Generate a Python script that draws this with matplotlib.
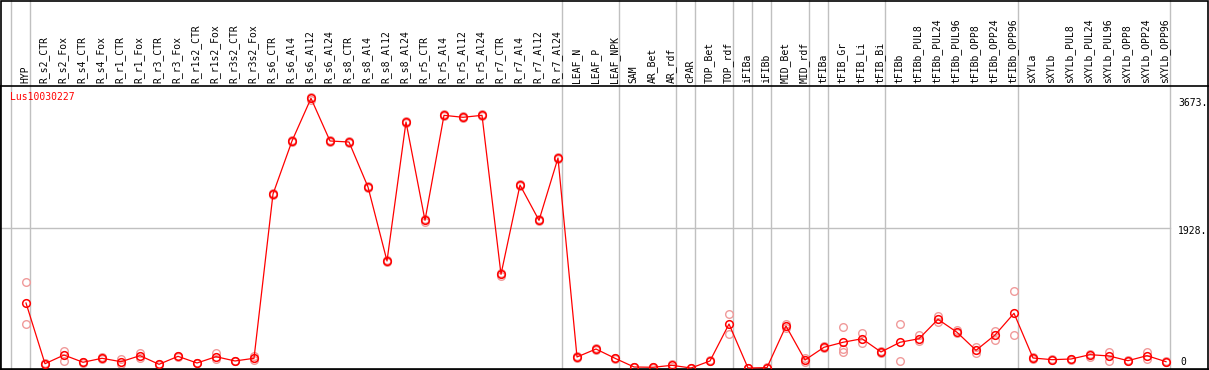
import matplotlib
matplotlib.use('Agg')
import matplotlib.pyplot as plt
from matplotlib.patches import Rectangle
import numpy as np

names = ['HYP', 'R_s2_CTR', 'R_s2_Fox', 'R_s4_CTR', 'R_s4_Fox', 'R_r1_CTR', 'R_r1_Fox',
         'R_r3_CTR', 'R_r3_Fox', 'R_r1s2_CTR', 'R_r1s2_Fox', 'R_r3s2_CTR', 'R_r3s2_Fox',
         'R_s6_CTR', 'R_s6_Al4', 'R_s6_Al12', 'R_s6_Al24', 'R_s8_CTR', 'R_s8_Al4',
         'R_s8_Al12', 'R_s8_Al24', 'R_r5_CTR', 'R_r5_Al4', 'R_r5_Al12', 'R_r5_Al24',
         'R_r7_CTR', 'R_r7_Al4', 'R_r7_Al12', 'R_r7_Al24', 'LEAF_N', 'LEAF_P', 'LEAF_NPK',
         'SAM', 'AR_Bet', 'AR_rdf', 'cPAR', 'TOP_Bet', 'TOP_rdf', 'iFIBa', 'iFIBb',
         'MID_Bet', 'MID_rdf', 'tFIBa', 'tFIB_Gr', 'tFIB_Li', 'tFIB_Bi', 'tFIBb',
         'tFIBb_PUL8', 'tFIBb_PUL24', 'tFIBb_PUL96', 'tFIBb_OPP8', 'tFIBb_OPP24',
         'tFIBb_OPP96', 'sXYLa', 'sXYLb', 'sXYLb_PUL8', 'sXYLb_PUL24', 'sXYLb_PUL96',
         'sXYLb_OPP8', 'sXYLb_OPP24', 'sXYLb_OPP96']

means = [897, 59, 179, 79, 134, 87, 170, 51, 161, 69, 156, 97, 134,
         2401, 3133, 3722, 3133, 3119, 2498, 1477, 3395, 2038, 3487, 3460, 3487,
         1293, 2525, 2038, 2898, 152, 262, 134, 14, 10, 37, 0, 97, 607, 0, 5,
         580, 110, 286, 355, 404, 221, 355, 404, 672, 493, 244, 455, 755,
         138, 115, 124, 184, 166, 101, 170, 87]

rep1 = [1183, 66, 235, 84, 145, 124, 211, 55, 170, 74, 203, 102, 159,
        2420, 3150, 3740, 3145, 3135, 2515, 1495, 3410, 2055, 3500, 3472, 3502,
        1310, 2540, 2052, 2915, 160, 270, 142, 18, 14, 55, 3, 104, 745, 2, 10,
        607, 138, 300, 566, 487, 239, 603, 455, 722, 524, 286, 515, 1063,
        145, 122, 131, 197, 225, 108, 225, 94]

rep2 = [603, 52, 97, 74, 124, 55, 138, 47, 152, 64, 124, 92, 110,
        2382, 3116, 3704, 3121, 3103, 2481, 1459, 3380, 2021, 3474, 3448, 3472,
        1276, 2510, 2024, 2881, 144, 254, 126, 10, 6, 20, 0, 90, 469, 0, 0,
        552, 79, 272, 258, 341, 203, 97, 373, 631, 479, 211, 386, 455,
        131, 108, 117, 148, 97, 94, 124, 80]

rep3 = {'tFIB_Gr': 217}

# index of last sample in each group (grey separators)
group_ends = [-1, 0, 28, 31, 34, 35, 37, 38, 39, 41, 42, 45, 52, 60]

W, H = 1209, 370
top_px, bot_px = 86, 369
x0, dx = 26, 19
scale = 1928 / (368 - 228.3)
grey = '#c0c0c0'
mono = 'DejaVu Sans Mono'

fig = plt.figure(figsize=(W / 100, H / 100), dpi=100)
ax = fig.add_axes([0, (H - bot_px) / H, 1, (bot_px - top_px) / H])
ax.set_xlim(-x0 / dx, (W - x0) / dx)
ax.set_ylim((368 - bot_px) * scale, (368 - top_px) * scale)
ax.set_xticks([])
ax.set_yticks([])
ax.spines['right'].set_visible(False)
for s in ['top', 'bottom', 'left']:
    ax.spines[s].set_linewidth(1.2)

x = np.arange(len(names))
ext = 1 + top_px / (bot_px - top_px)
for g in group_ends:
    ax.plot([g + 0.2, g + 0.2], [0, ext], transform=ax.get_xaxis_transform(),
            clip_on=False, color=grey, lw=1, zorder=1)
ax.plot([ax.get_xlim()[0], 60.2], [1928, 1928], color=grey, lw=1, zorder=1)

rep_style = dict(ls='none', marker='o', ms=5.5, mfc='none', mec='#f09a9a', mew=1.0, zorder=2)
ax.plot(x, rep1, **rep_style)
ax.plot(x, rep2, **rep_style)
for n, v in rep3.items():
    ax.plot([names.index(n)], [v], **rep_style)

ax.plot(x, means, color='red', lw=0.9, marker='o', ms=5.5, mfc='none',
        mec='red', mew=1.1, zorder=3)

for i, n in enumerate(names):
    ax.text(i - 0.05, 1 + 3 / (bot_px - top_px), n, rotation=90, ha='center', va='bottom',
            transform=ax.get_xaxis_transform(), fontsize=7, family=mono, clip_on=False)

xl = (1178 - x0) / dx
ax.text(xl, 3673 + 60, '3673.', va='top', ha='left', fontsize=7, family=mono)
ax.text(xl, 1928 + 30, '1928.', va='top', ha='left', fontsize=7, family=mono)
ax.text(xl + 0.1, (368 - 362) * scale, '0', va='center', ha='left', fontsize=7, family=mono)

fig.text(10 / W, 1 - 97 / H, 'Lus10030227', color='red', fontsize=7, family=mono,
         va='center', ha='left')

fig.add_artist(Rectangle((0.5 / W, 0), 1 - 1.5 / W, 1 - 0.5 / H, transform=fig.transFigure,
                         fill=False, ec='black', lw=1.2))

fig.savefig('out.png', dpi=100)
